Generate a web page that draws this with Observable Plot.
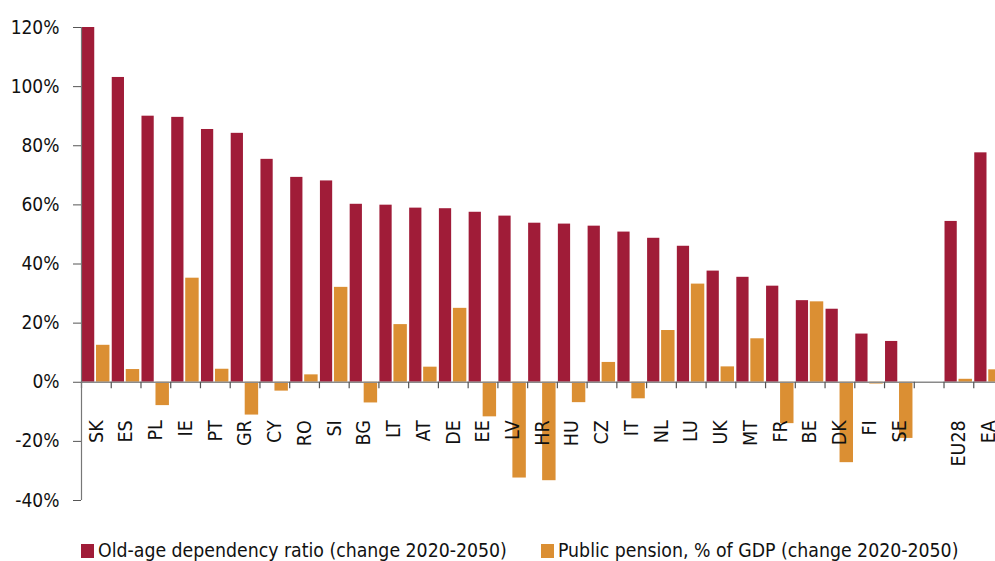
<!DOCTYPE html>
<html>
<head>
<meta charset="utf-8">
<script src="https://cdn.jsdelivr.net/npm/d3@7"></script>
<script src="https://cdn.jsdelivr.net/npm/@observablehq/plot@0.6"></script>
<style>
  html, body { margin: 0; padding: 0; background: #fff; overflow: hidden; width: 995px; height: 561px; }
  #chart svg { display: block; max-width: none !important; }
  #chart svg text { font-stretch: condensed; }
  .legend { position: relative; height: 25px; font-family: "DejaVu Sans Condensed", "DejaVu Sans", sans-serif; font-stretch: condensed; font-size: 19.3px; color: #111; }
  .legend .item { position: absolute; top: 3px; display: flex; align-items: center; white-space: nowrap; }
  .legend .sw { width: 13px; height: 14px; margin-right: 4px; }
</style>
</head>
<body>
<div id="chart"></div>
<div class="legend" id="legend"></div>
<script>
const categories = ["SK","ES","PL","IE","PT","GR","CY","RO","SI","BG","LT","AT","DE","EE","LV","HR","HU","CZ","IT","NL","LU","UK","MT","FR","BE","DK","FI","SE","","EU28","EA"];
const oldAgeRatio = [120,103.1,90.0,89.6,85.5,84.2,75.4,69.3,68.1,60.2,59.9,58.9,58.7,57.5,56.2,53.8,53.5,52.8,50.8,48.7,46.0,37.6,35.5,32.5,27.6,24.7,16.3,13.8,null,54.4,77.6];
const publicPension = [12.5,4.3,-7.9,35.2,4.4,-11.1,-3.0,2.5,32.1,-7.0,19.5,5.1,25.0,-11.7,-32.4,-33.3,-6.9,6.7,-5.6,17.5,33.2,5.2,14.7,-14.0,27.2,-27.2,-0.6,-19.0,null,1.0,4.2];
const seriesNames = ["Old-age dependency ratio (change 2020-2050)", "Public pension, % of GDP (change 2020-2050)"];
const colors = ["#a01c38", "#db8f33"];
const yTicks = [-40,-20,0,20,40,60,80,100,120];

const data = categories.map((c, i) => ({c, a: oldAgeRatio[i], b: publicPension[i]}));

const W = 1010, ML = 81, MR = 7;
const bw = (W - ML - MR) / categories.length;
const font = "'DejaVu Sans Condensed', 'DejaVu Sans', sans-serif";

const chart = Plot.plot({
  width: W, height: 536,
  marginLeft: ML, marginRight: MR, marginTop: 27, marginBottom: 36,
  x: {domain: categories, padding: 0, round: false, axis: null},
  y: {domain: [-40, 120], axis: null},
  style: {fontFamily: font, fontSize: "19px", color: "#111", background: "white", maxWidth: "none"},
  marks: [
    Plot.barY(data, {x: "c", y: "a", fill: colors[0], insetLeft: 1, insetRight: 16.5}),
    Plot.barY(data, {x: "c", y: "b", fill: colors[1], insetLeft: 15, insetRight: 1.3}),
    Plot.ruleY([0], {stroke: "#8a8a8a", strokeWidth: 1.5}),
    Plot.ruleX(categories, {x: d => d, y1: 0, y2: -2.2, dx: -bw / 2, stroke: "#555", strokeWidth: 1.2}),
    Plot.ruleX([categories[0]], {x: d => d, y1: -40, y2: 120, dx: -bw / 2, stroke: "#777", strokeWidth: 1.2}),
    Plot.axisY({ticks: yTicks, tickFormat: d => d + "%", tickSize: 8, tickPadding: 14, stroke: "#555", fill: "#111", fontSize: 19}),
    Plot.text(categories, {x: d => d, y: () => 0, text: d => d, rotate: -90, textAnchor: "end", lineAnchor: "middle", dy: 38, fill: "#111", fontSize: 19.5})
  ]
});
document.getElementById("chart").appendChild(chart);

const legend = document.getElementById("legend");
const lefts = [81, 541];
seriesNames.forEach((name, i) => {
  const item = document.createElement("div");
  item.className = "item";
  item.style.left = lefts[i] + "px";
  const sw = document.createElement("span");
  sw.className = "sw";
  sw.style.background = colors[i];
  const t = document.createElement("span");
  t.textContent = name;
  item.appendChild(sw);
  item.appendChild(t);
  legend.appendChild(item);
});
</script>
</body>
</html>
